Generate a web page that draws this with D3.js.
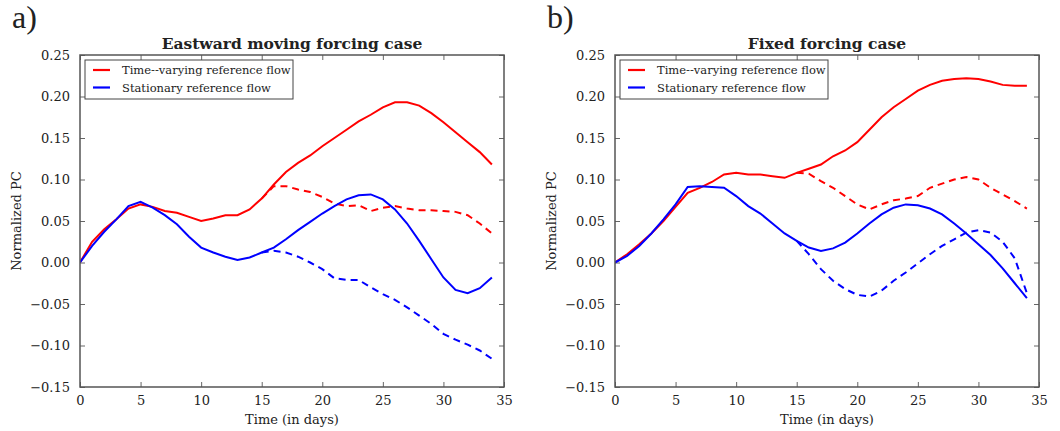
<!DOCTYPE html>
<html>
<head>
<meta charset="utf-8">
<script src="https://cdn.jsdelivr.net/npm/d3@7"></script>
<style>
  body { margin: 0; background: #fff; }
  svg text { font-family: "DejaVu Serif", serif; fill: #222; }
</style>
</head>
<body>
<div id="chart"></div>
<script>
// Days 0..34 for the full runs, 15..34 for the branch (dashed) runs
const days = d3.range(0, 35);
const branchDays = d3.range(15, 35);

// a) Eastward moving forcing case
const eastTimeVarying = [0, 0.025, 0.04, 0.052, 0.065, 0.070, 0.067, 0.062, 0.060, 0.055,
  0.050, 0.053, 0.057, 0.057, 0.064, 0.077, 0.094, 0.109, 0.120, 0.129,
  0.140, 0.150, 0.160, 0.170, 0.178, 0.187, 0.193, 0.193, 0.189, 0.180,
  0.169, 0.157, 0.145, 0.133, 0.118];
const eastTimeVaryingBranch = [0.077, 0.092, 0.092, 0.088, 0.085, 0.079, 0.071, 0.068, 0.069, 0.062,
  0.066, 0.068, 0.065, 0.063, 0.063, 0.062, 0.061, 0.057, 0.047, 0.035];
const eastStationary = [0, 0.020, 0.037, 0.052, 0.068, 0.073, 0.066, 0.057, 0.046, 0.031,
  0.018, 0.012, 0.007, 0.003, 0.006, 0.012, 0.018, 0.028, 0.039, 0.049,
  0.059, 0.068, 0.076, 0.081, 0.082, 0.076, 0.064, 0.047, 0.026, 0.004,
  -0.018, -0.033, -0.037, -0.031, -0.018];
const eastStationaryBranch = [0.012, 0.014, 0.012, 0.007, 0.000, -0.008, -0.019, -0.021, -0.021, -0.030,
  -0.038, -0.045, -0.054, -0.064, -0.074, -0.086, -0.093, -0.099, -0.106, -0.116];

// b) Fixed forcing case
const fixedTimeVarying = [0, 0.010, 0.022, 0.035, 0.050, 0.067, 0.084, 0.090, 0.097, 0.106,
  0.108, 0.106, 0.106, 0.104, 0.102, 0.108, 0.113, 0.118, 0.128, 0.135,
  0.145, 0.160, 0.175, 0.187, 0.197, 0.207, 0.214, 0.219, 0.221, 0.222,
  0.221, 0.218, 0.214, 0.213, 0.213];
const fixedTimeVaryingBranch = [0.108, 0.107, 0.098, 0.090, 0.080, 0.070, 0.064, 0.070, 0.075, 0.077,
  0.080, 0.090, 0.095, 0.100, 0.103, 0.100, 0.090, 0.082, 0.074, 0.065];
const fixedStationary = [0, 0.008, 0.020, 0.035, 0.052, 0.070, 0.091, 0.092, 0.091, 0.090,
  0.080, 0.068, 0.059, 0.047, 0.035, 0.026, 0.018, 0.014, 0.017, 0.024,
  0.035, 0.047, 0.058, 0.066, 0.070, 0.069, 0.065, 0.058, 0.047, 0.035,
  0.022, 0.009, -0.007, -0.025, -0.043];
const fixedStationaryBranch = [0.026, 0.010, -0.008, -0.022, -0.032, -0.039, -0.041, -0.034, -0.022, -0.012,
  -0.001, 0.010, 0.020, 0.028, 0.036, 0.039, 0.036, 0.025, 0.005, -0.037];

const xTicks = [0, 5, 10, 15, 20, 25, 30, 35];
const yTicks = [-0.15, -0.10, -0.05, 0.00, 0.05, 0.10, 0.15, 0.20, 0.25];
const legendLabels = ['Time--varying reference flow', 'Stationary reference flow'];
const colors = ['#ff0000', '#0000ff'];

const width = 1060, height = 431;
const svg = d3.select('#chart').append('svg')
  .attr('width', width)
  .attr('height', height);

const panels = [
  { letter: 'a)', title: 'Eastward moving forcing case', left: 80,
    series: [eastTimeVarying, eastStationary], branches: [eastTimeVaryingBranch, eastStationaryBranch] },
  { letter: 'b)', title: 'Fixed forcing case', left: 615,
    series: [fixedTimeVarying, fixedStationary], branches: [fixedTimeVaryingBranch, fixedStationaryBranch] }
];

const fmt = d => (d < 0 ? '\u2212' : '') + Math.abs(d).toFixed(2);

panels.forEach(p => {
  const top = 55, plotW = 424, plotH = 332;
  const g = svg.append('g').attr('transform', `translate(${p.left}, ${top})`);

  const x = d3.scaleLinear().domain([0, 35]).range([0, plotW]);
  const y = d3.scaleLinear().domain([-0.15, 0.25]).range([plotH, 0]);

  // Axes: ticks pointing inward on all four sides
  const axes = [
    { axis: d3.axisBottom(x).tickValues(xTicks).tickSizeInner(-5).tickSizeOuter(0).tickPadding(9), t: `translate(0, ${plotH})`, labels: true },
    { axis: d3.axisTop(x).tickValues(xTicks).tickSizeInner(-5).tickSizeOuter(0), t: 'translate(0, 0)', labels: false },
    { axis: d3.axisLeft(y).tickValues(yTicks).tickFormat(fmt).tickSizeInner(-5).tickSizeOuter(0).tickPadding(10), t: 'translate(0, 0)', labels: true },
    { axis: d3.axisRight(y).tickValues(yTicks).tickSizeInner(-5).tickSizeOuter(0), t: `translate(${plotW}, 0)`, labels: false }
  ];
  axes.forEach(a => {
    const ag = g.append('g').attr('transform', a.t).call(a.axis);
    ag.select('.domain').remove();
    ag.selectAll('line').attr('stroke', '#666').attr('stroke-width', 1);
    if (a.labels) {
      ag.selectAll('text').style('font-family', '"DejaVu Serif", serif').style('font-size', '13px').attr('fill', '#333');
    } else {
      ag.selectAll('text').remove();
    }
  });

  const clipId = 'clip' + p.left;
  g.append('clipPath').attr('id', clipId)
    .append('rect').attr('width', plotW).attr('height', plotH);

  const line = d3.line().x(d => x(d[0])).y(d => y(d[1]));
  const lines = g.append('g').attr('clip-path', `url(#${clipId})`);

  // Dashed branch runs first, then solid runs on top
  p.branches.forEach((vals, i) => {
    lines.append('path')
      .datum(branchDays.map((d, j) => [d, vals[j]]))
      .attr('fill', 'none')
      .attr('stroke', colors[i])
      .attr('stroke-width', 2)
      .attr('stroke-dasharray', '7,5')
      .attr('d', line);
  });
  p.series.forEach((vals, i) => {
    lines.append('path')
      .datum(days.map((d, j) => [d, vals[j]]))
      .attr('fill', 'none')
      .attr('stroke', colors[i])
      .attr('stroke-width', 2)
      .attr('d', line);
  });

  // Frame
  g.append('rect')
    .attr('width', plotW).attr('height', plotH)
    .attr('fill', 'none').attr('stroke', '#555').attr('stroke-width', 1.5);

  // Legend
  const lg = g.append('g').attr('transform', 'translate(5, 5)');
  lg.append('rect')
    .attr('width', 208).attr('height', 39)
    .attr('fill', '#fff').attr('stroke', '#444').attr('stroke-width', 1);
  legendLabels.forEach((lab, i) => {
    const ly = 10 + i * 17.5;
    lg.append('line')
      .attr('x1', 8).attr('x2', 25).attr('y1', ly).attr('y2', ly)
      .attr('stroke', colors[i]).attr('stroke-width', 2.2);
    lg.append('text')
      .attr('x', 37).attr('y', ly + 4)
      .style('font-size', '11.5px')
      .text(lab);
  });

  // Title
  g.append('text')
    .attr('x', plotW / 2).attr('y', -6)
    .attr('text-anchor', 'middle')
    .style('font-size', '15.5px').style('font-weight', 'bold')
    .attr('fill', '#111')
    .text(p.title);

  // Axis labels
  g.append('text')
    .attr('x', plotW / 2).attr('y', plotH + 37)
    .attr('text-anchor', 'middle')
    .style('font-size', '13px')
    .text('Time (in days)');
  g.append('text')
    .attr('transform', `translate(-59, ${y(0.05)}) rotate(-90)`)
    .attr('text-anchor', 'middle')
    .style('font-size', '13px')
    .text('Normalized PC');

  // Panel letter
  svg.append('text')
    .attr('x', p.left - 68).attr('y', 28)
    .style('font-family', '"Liberation Serif", serif')
    .style('font-size', '32px')
    .attr('fill', '#111')
    .text(p.letter);
});
</script>
</body>
</html>
